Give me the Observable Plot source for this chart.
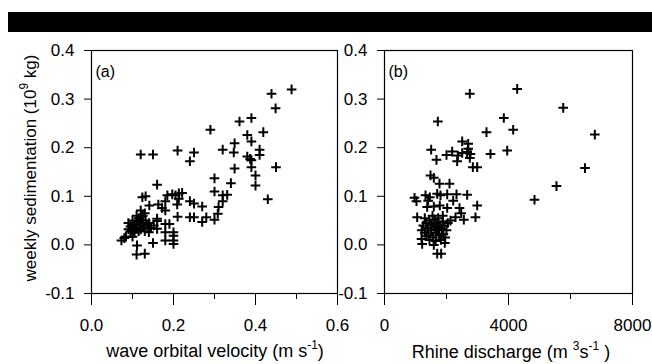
<!DOCTYPE html>
<html>
<head>
<meta charset="utf-8">
<script src="https://cdn.jsdelivr.net/npm/d3@7"></script>
<script src="https://cdn.jsdelivr.net/npm/@observablehq/plot@0.6"></script>
<style>
  html, body { margin: 0; padding: 0; background: #fff; }
  #wrap { position: relative; width: 652px; height: 364px; overflow: hidden; background: #fff;
          font-family: "Liberation Sans", Arial, sans-serif; color: #000; }
  #bar { position: absolute; left: 8px; top: 12px; width: 644px; height: 20px; background: #000; }
  .panel { position: absolute; top: 0; }
  .title { position: absolute; font-size: 18px; white-space: nowrap; line-height: 1; }
  .title sup { font-size: 12px; vertical-align: 0; position: relative; top: -8px; }
</style>
</head>
<body>
<div id="wrap">
  <div id="bar"></div>
  <div id="pa" class="panel" style="left:0px"></div>
  <div id="pb" class="panel" style="left:345px"></div>
  <div class="title" id="ytitle" style="left:30px; top:168px; font-size:17px; transform: translate(-50%,-50%) rotate(-90deg);">weekly sedimentation (10<sup>9</sup> kg)</div>
  <div class="title" style="left:215px; top:342px; transform: translateX(-50%);">wave orbital velocity (m s<sup>-1</sup>)</div>
  <div class="title" style="left:511px; top:343px; transform: translateX(-50%);">Rhine discharge (m <sup>3</sup>s<sup>-1</sup> )</div>
</div>
<script>
// Panel (a): wave orbital velocity (m/s) vs weekly sedimentation (10^9 kg)
const velocity = [0.488,0.439,0.449,0.39,0.361,0.29,0.419,0.38,0.39,0.349,0.32,0.41,0.21,0.347,0.25,0.12,0.15,0.41,0.38,0.387,0.39,0.24,0.349,0.39,0.45,0.40,0.30,0.34,0.40,0.16,0.30,0.32,0.331,0.43,0.32,0.31,0.27,0.24,0.25,0.308,0.30,0.28,0.27,0.24,0.25,0.209,0.21,
  0.185,0.197,0.205,0.213,0.221,0.213,0.124,0.132,0.141,0.12,0.163,0.172,0.18,0.18,0.16,0.16,0.18,0.19,0.18,0.20,0.20,0.20,0.20,0.18,0.15,0.111,0.11,0.13,0.14,0.10,0.073,0.08,0.084,
  0.09,0.095,0.10,0.10,0.105,0.11,0.11,0.115,0.118,0.12,0.12,0.125,0.128,0.13,0.132,0.136,0.095,0.105,0.115,0.125,0.14,0.145,0.152,0.16,0.11,0.13,0.10,0.09];
const sedimentA = [0.320,0.311,0.281,0.261,0.254,0.237,0.232,0.226,0.213,0.209,0.196,0.196,0.194,0.19,0.19,0.186,0.186,0.185,0.182,0.177,0.174,0.172,0.157,0.16,0.16,0.143,0.137,0.127,0.122,0.124,0.110,0.102,0.103,0.094,0.09,0.078,0.079,0.09,0.085,0.064,0.052,0.057,0.047,0.057,0.057,0.083,0.058,
  0.102,0.104,0.102,0.106,0.107,0.095,0.098,0.1,0.081,0.071,0.083,0.076,0.071,0.09,0.054,0.049,0.043,0.043,0.026,0.026,0.019,0.009,0.002,0.009,0.004,-0.001,-0.02,-0.018,0.026,0.017,0.009,0.014,0.017,
  0.045,0.038,0.05,0.03,0.042,0.035,0.048,0.028,0.04,0.052,0.032,0.045,0.036,0.028,0.05,0.04,0.028,0.025,0.055,0.06,0.045,0.035,0.04,0.033,0.06,0.065,0.04,0.032];

// Panel (b): Rhine discharge (m3/s) vs weekly sedimentation (10^9 kg)
const discharge = [2752,4280,5765,1720,3849,4151,3290,6785,1505,1677,2000,2183,2506,2700,2366,2506,2667,2774,2700,2752,2344,3419,3958,2850,2990,6468,5548,4839,1484,1591,1774,2097,968,1032,1323,1462,1409,1700,1806,2022,2323,2667,2216,2990,1376,1591,1784,2022,2419,2474,1054,2935,2559,2290,2129,2043,1194,1215,1591,1945,1700,1828,
  1200,1250,1300,1350,1400,1420,1450,1500,1520,1560,1600,1620,1650,1680,1700,1730,1760,1800,1820,1850,1880,1900,1930,1960,2000,1300,1550,1450,1750,1650,1880,1350];
const sedimentB = [0.311,0.321,0.282,0.254,0.261,0.237,0.232,0.227,0.196,0.175,0.185,0.192,0.213,0.208,0.184,0.189,0.191,0.187,0.198,0.179,0.172,0.187,0.194,0.16,0.16,0.158,0.121,0.093,0.143,0.138,0.126,0.126,0.097,0.09,0.102,0.098,0.091,0.105,0.102,0.104,0.104,0.103,0.091,0.081,0.078,0.079,0.081,0.076,0.076,0.065,0.057,0.057,0.052,0.057,0.05,0.045,0.012,0.002,0.0,0.004,-0.018,-0.018,
  0.03,0.04,0.025,0.045,0.035,0.02,0.05,0.03,0.042,0.015,0.038,0.052,0.025,0.045,0.03,0.055,0.02,0.04,0.01,0.032,0.048,0.022,0.04,0.015,0.03,0.055,0.06,0.01,0.035,0.008,0.06,0.018];

const yTicks = [-0.1, 0.0, 0.1, 0.2, 0.3, 0.4];
const xTicksA = [0.0, 0.2, 0.4, 0.6];
const xMinorA = [0.1, 0.3, 0.5];
const xTicksB = [0, 4000, 8000];
const xMinorB = [2000, 6000];

const dataA = velocity.map((v, i) => ({x: v, y: sedimentA[i]}));
const dataB = discharge.map((q, i) => ({x: q, y: sedimentB[i]}));

const style = {fontFamily: '"Liberation Sans", Arial, sans-serif', fontSize: "17px", color: "#000", background: "transparent", overflow: "visible"};

function panel(data, opts) {
  return Plot.plot({
    width: opts.width, height: 340,
    marginLeft: opts.ml, marginRight: opts.mr, marginTop: 50, marginBottom: 47,
    style,
    x: {domain: opts.xdomain},
    y: {domain: [-0.1, 0.4]},
    marks: [
      Plot.frame({stroke: "#000", strokeWidth: 1.2}),
      Plot.axisY({ticks: yTicks, tickFormat: d => d.toFixed(1), tickSize: 7, tickPadding: 10, label: null, fontSize: 17}),
      Plot.axisX({ticks: opts.xticks, tickFormat: opts.xfmt, tickSize: 12, tickPadding: 13, label: null, fontSize: 17}),
      Plot.axisX({ticks: opts.xminor, tickFormat: () => "", tickSize: 6, label: null}),
      Plot.dot(data, {x: "x", y: "y", symbol: "plus", r: 3.2, stroke: "#000", strokeWidth: 2}),
      Plot.text([opts.tag], {frameAnchor: "top-left", dx: 4, dy: 15, fontSize: 16, textAnchor: "start"})
    ]
  });
}

document.getElementById("pa").append(panel(dataA, {
  width: 345, ml: 91, mr: 8, xdomain: [0, 0.6], xticks: xTicksA, xminor: xMinorA,
  xfmt: d => d.toFixed(1), tag: "(a)"
}));
document.getElementById("pb").append(panel(dataB, {
  width: 307, ml: 39, mr: 20, xdomain: [0, 8000], xticks: xTicksB, xminor: xMinorB,
  xfmt: d => String(d), tag: "(b)"
}));
</script>
</body>
</html>
